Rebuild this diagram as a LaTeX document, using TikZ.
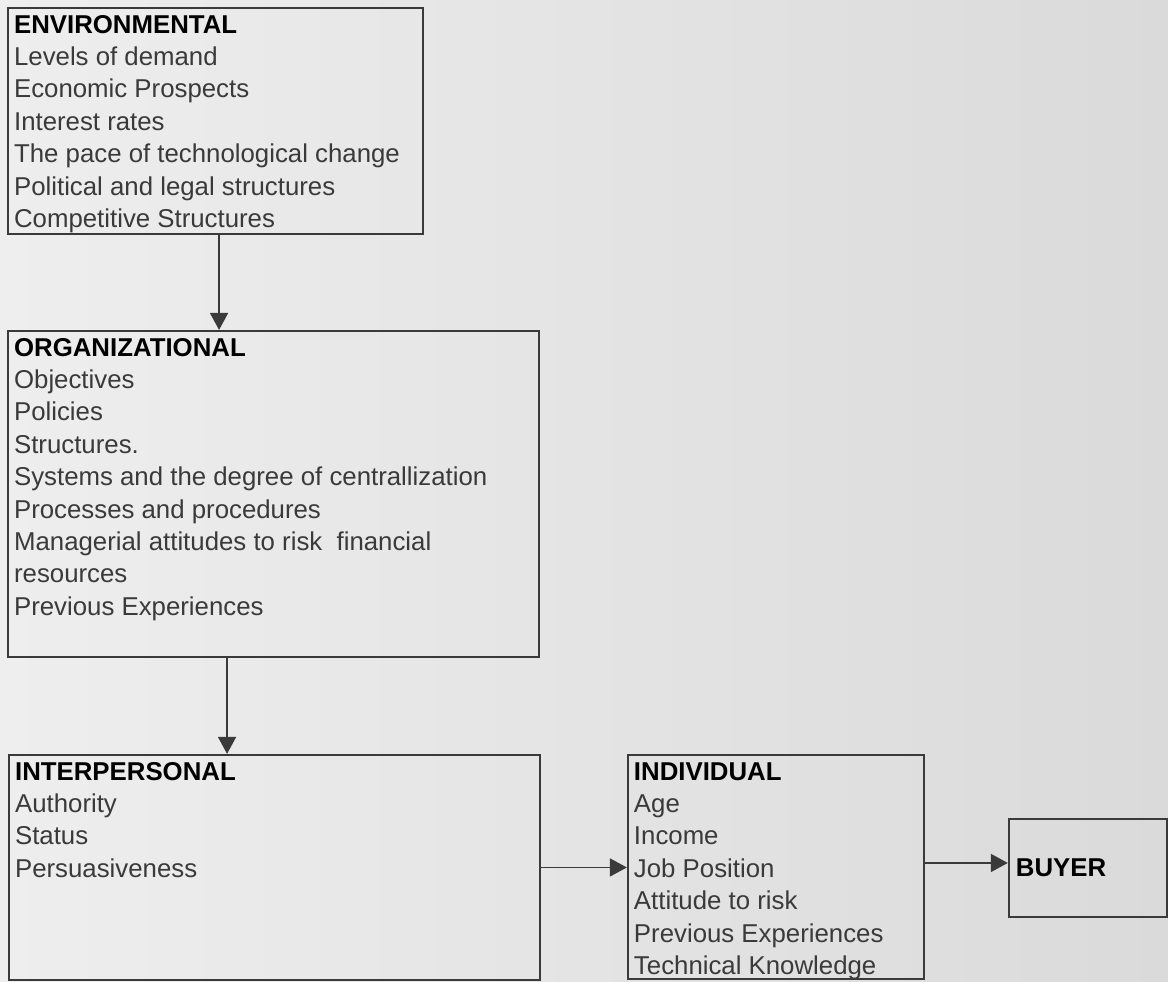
\documentclass[tikz,border=0pt]{standalone}
\usepackage{fontspec}
\setmainfont{Liberation Sans}
\usepackage{xcolor}
\usepackage{tikz}
\usetikzlibrary{arrows.meta,positioning}

\definecolor{paperl}{HTML}{EEEEEE}
\definecolor{paperr}{HTML}{DADADA}
\definecolor{ink}{HTML}{3A3A3A}
\newcommand{\factorlist}[3]{\parbox[t][#2][t]{#1}{\strut #3}}
\newcommand{\factorhead}[1]{\textcolor{black}{\textbf{#1}}}

\begin{document}
\begin{tikzpicture}[x=0.5pt,y=-0.5pt,
  factor/.style={draw=ink,line width=1.1pt,anchor=north west,inner xsep=3pt,inner ysep=1.2pt,
    font=\fontsize{12.9}{16.2}\selectfont,text=ink},
  buyerbox/.style={draw=ink,line width=1.1pt,anchor=north west,inner xsep=3.5pt,
    minimum width=79pt,minimum height=49pt,text width=72pt,align=left,
    font=\fontsize{12.9}{16.2}\selectfont\bfseries},
  arr/.style={-{Triangle[length=8.5pt,width=9pt]},line width=0.8pt,draw=ink}]
\shade[left color=paperl,right color=paperr] (0,0) rectangle (1168,982);
\node[factor] (env) at (7,7) {\factorlist{201.5pt}{110.6pt}{\factorhead{ENVIRONMENTAL}\\
  Levels of demand\\Economic Prospects\\Interest rates\\The pace of technological change\\
  Political and legal structures\\Competitive Structures}};
\node[factor] (org) at (7,330) {\factorlist{259.5pt}{160.6pt}{\factorhead{ORGANIZATIONAL}\\
  Objectives\\Policies\\Structures.\\Systems and the degree of centrallization\\
  Processes and procedures\\Managerial attitudes to risk~ financial\\resources\\Previous Experiences}};
\node[factor] (int) at (8,754) {\factorlist{259.5pt}{110.1pt}{\factorhead{INTERPERSONAL}\\
  Authority\\Status\\Persuasiveness}};
\node[factor] (ind) at (627,754) {\factorlist{142pt}{109.6pt}{\factorhead{INDIVIDUAL}\\
  Age\\Income\\Job Position\\Attitude to risk\\Previous Experiences\\Technical Knowledge}};
\node[buyerbox] (buyer) at (1008,818) {BUYER};
% influence chain
\draw[arr] ([xshift=1.75pt]env.south) -- ([xshift=1.75pt]env.south |- org.north);
\draw[arr] ([xshift=-23.25pt]org.south) -- ([xshift=-23.25pt]org.south |- int.north);
\draw[arr] (int.east) -- (int.east -| ind.west);
\draw[arr] ([yshift=2.5pt]ind.east |- buyer.west) -- ([yshift=2.5pt]buyer.west);
\end{tikzpicture}
\end{document}
